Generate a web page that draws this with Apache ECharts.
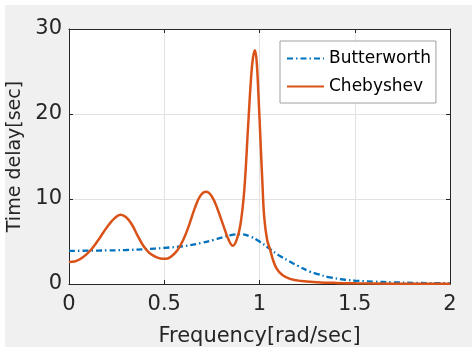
<!DOCTYPE html>
<html><head><meta charset="utf-8">
<script src="https://cdn.jsdelivr.net/npm/echarts@6/dist/echarts.min.js"></script>
<style>
html,body{margin:0;padding:0;background:#fff;}
#bg{position:absolute;left:5px;top:5px;width:467px;height:342px;background:#f0f0f0;}
#c{position:absolute;left:0;top:0;width:472px;height:349px;}
</style>
</head><body><div id="bg"></div><div id="c"></div>
<script>
// Butterworth group delay
const freqB = [0, 0.1, 0.2, 0.3, 0.4, 0.5, 0.6, 0.7, 0.76, 0.8, 0.85, 0.9, 0.95, 1.0, 1.05, 1.1, 1.16, 1.2, 1.265, 1.3, 1.37, 1.45, 1.5, 1.6, 1.7, 1.8, 1.9, 2.0];
const delayB = [3.9, 3.92, 3.95, 4.0, 4.1, 4.25, 4.45, 4.85, 5.2, 5.45, 5.75, 5.85, 5.6, 5.0, 4.2, 3.4, 2.63, 2.15, 1.45, 1.2, 0.78, 0.5, 0.4, 0.28, 0.2, 0.14, 0.1, 0.08];
// Chebyshev group delay
const freqC = [0, 0.03, 0.06, 0.09, 0.12, 0.15, 0.18, 0.21, 0.24, 0.27, 0.30, 0.33, 0.36, 0.39, 0.42, 0.45, 0.48, 0.51, 0.54, 0.57, 0.60, 0.63, 0.66, 0.69, 0.72, 0.75, 0.78, 0.81, 0.84, 0.86, 0.88, 0.9, 0.92, 0.94, 0.955, 0.965, 0.976, 0.985, 0.995, 1.005, 1.015, 1.025, 1.04, 1.055, 1.07, 1.09, 1.12, 1.16, 1.22, 1.3, 1.4, 1.5, 1.7, 2.0];
const delayC = [2.6, 2.65, 2.95, 3.45, 4.15, 5.05, 6.05, 7.0, 7.75, 8.15, 7.85, 7.0, 5.7, 4.5, 3.7, 3.25, 3.0, 2.97, 3.3, 4.0, 5.2, 6.9, 8.9, 10.4, 10.85, 10.3, 8.8, 6.9, 5.1, 4.5, 5.2, 7.0, 11, 18.5, 24, 26.5, 27.5, 26.2, 22, 17, 12, 7.8, 5.2, 4.1, 2.9, 1.8, 1.05, 0.6, 0.35, 0.22, 0.13, 0.08, 0.04, 0.02];
const seriesNames = ['Butterworth', 'Chebyshev'];
const xTitle = 'Frequency[rad/sec]';
const yTitle = 'Time delay[sec]';

const FONT = 'DejaVu Sans';
const AX = '#262626';
const chart = echarts.init(document.getElementById('c'), null, {renderer: 'canvas'});
const pair = (xs, ys) => xs.map((x, i) => [x, ys[i]]);
const hiddenAxis = {
  min: 0, axisLabel: {show: false}, splitLine: {show: false},
  axisLine: {show: true, onZero: false, lineStyle: {color: AX, width: 1}},
  axisTick: {show: true, inside: true, length: 4, lineStyle: {color: AX}}
};
chart.setOption({
  animation: false,
  backgroundColor: 'transparent',
  grid: {left: 69, right: 22, top: 29, bottom: 65, show: true, backgroundColor: '#fff', borderWidth: 0,
         containLabel: false, outerBoundsMode: 'none'},
  legend: {
    orient: 'vertical', left: 280, top: 41, padding: [9, 5, 8, 6],
    itemWidth: 37, itemHeight: 14, itemGap: 11,
    backgroundColor: '#fff', borderColor: '#a0a0a0', borderWidth: 1,
    itemStyle: {opacity: 0},
    textStyle: {fontFamily: FONT, fontSize: 17, color: '#000'},
    data: seriesNames
  },
  xAxis: [{
    type: 'value', position: 'bottom', min: 0, max: 2, interval: 0.5,
    name: xTitle, nameLocation: 'middle', nameGap: 42,
    nameTextStyle: {fontFamily: FONT, fontSize: 21, color: AX},
    axisLabel: {fontFamily: FONT, fontSize: 21, color: AX, margin: 10},
    axisLine: {show: true, onZero: false, lineStyle: {color: AX, width: 1}},
    axisTick: {show: true, inside: true, length: 4, lineStyle: {color: AX}},
    splitLine: {show: true, lineStyle: {color: '#e2e2e2', width: 1}}
  }, Object.assign({type: 'value', position: 'top', max: 2, interval: 0.5}, hiddenAxis)],
  yAxis: [{
    type: 'value', position: 'left', min: 0, max: 30, interval: 10,
    name: yTitle, nameLocation: 'middle', nameGap: 38,
    nameTextStyle: {fontFamily: FONT, fontSize: 19, color: AX},
    axisLabel: {fontFamily: FONT, fontSize: 21, color: AX, margin: 7},
    axisLine: {show: true, onZero: false, lineStyle: {color: AX, width: 1}},
    axisTick: {show: true, inside: true, length: 4, lineStyle: {color: AX}},
    splitLine: {show: true, lineStyle: {color: '#e2e2e2', width: 1}}
  }, Object.assign({type: 'value', position: 'right', max: 30, interval: 10}, hiddenAxis)],
  series: [{
    name: seriesNames[0], type: 'line', data: pair(freqB, delayB),
    symbol: 'none', smooth: 0.4, color: '#0072BD',
    lineStyle: {color: '#0072BD', width: 2.3, type: [6, 3, 1.5, 3]}
  }, {
    name: seriesNames[1], type: 'line', data: pair(freqC, delayC),
    symbol: 'none', smooth: 0.4, color: '#D95319',
    lineStyle: {color: '#D95319', width: 2.5, type: 'solid'}
  }]
});
</script>
</body></html>
